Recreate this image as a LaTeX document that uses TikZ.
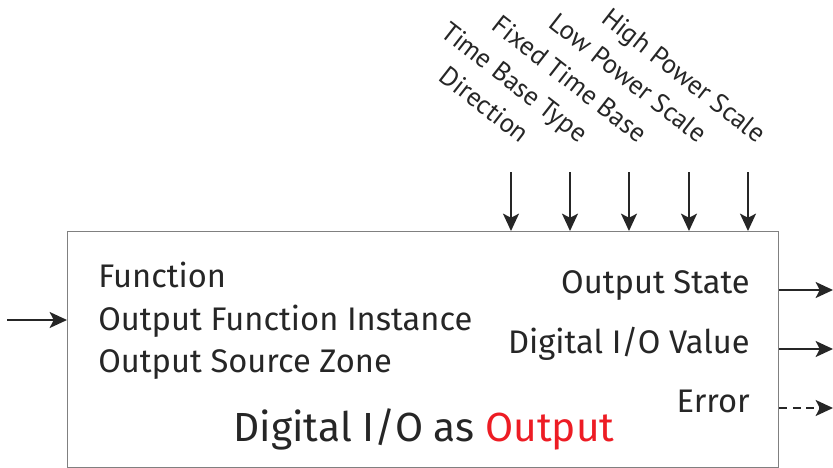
\documentclass[tikz,border=0pt]{standalone}
\usepackage{fontspec}
\setmainfont{Fira Sans}
\newfontfamily\slantfont{PT Sans}
\usetikzlibrary{positioning,arrows.meta}
\definecolor{boxgray}{gray}{0.5}
\definecolor{outred}{RGB}{237,28,36}

\begin{document}
\begin{tikzpicture}[x=0.75pt,y=-0.75pt,
  sig/.style={-{Stealth[length=13pt,width=12pt,inset=3pt]},line width=1.2pt,black!85},
  param/.style={font=\fontsize{24.5}{28}\selectfont,anchor=base west,inner sep=0pt,text=black!85},
  outlab/.style={font=\fontsize{24.5}{28}\selectfont,anchor=base east,inner sep=0pt,text=black!85},
  setting/.style={font=\slantfont\fontsize{20}{24}\selectfont,rotate=-38,anchor=base east,inner sep=0pt,text=black!85}]
\useasboundingbox (0,0) rectangle (833,468);
% the block
\node[draw=boxgray,line width=1.1pt,minimum width=533.25pt,minimum height=177pt,
  inner sep=0pt,anchor=north west] (blk) at (67,231) {};
\node[param] (fn) at (98,287) {Function};
\node[param] (ofi) at (98,330) {Output Function Instance};
\node[param] (osz) at (98,372) {Output Source Zone};
\node[font=\fontsize{30.5}{36}\selectfont,anchor=base,inner sep=0pt,text=black!85] (ttl) at (424,441)
  {Digital I/O as \textcolor{outred}{Output}};
\node[outlab] (ost) at (750,293) {Output State};
\node[outlab] (dv) at (750,353) {Digital I/O Value};
\node[outlab] (err) at (750,412) {Error};
% input
\coordinate (in) at (7,320);
\draw[sig] (in) -- (in -| blk.west);
% settings from above
\foreach \x/\nm/\txt in {511/dir/Direction,570/tbt/Time Base Type,629/ftb/Fixed Time Base,
    689/lps/Low Power Scale,748/hps/High Power Scale}{
  \coordinate (\nm) at (\x,172);
  \draw[sig] (\nm) -- (\nm |- blk.north);
  \node[setting] (\nm-lab) at ([shift={(9,-28)}]\nm) {\txt};
}
% outputs
\coordinate (o1) at (833,290);
\coordinate (o2) at (833,349);
\coordinate (o3) at (833,408);
\draw[sig] (o1 -| blk.east) -- (o1);
\draw[sig] (o2 -| blk.east) -- (o2);
\draw[sig,dash pattern=on 6pt off 4pt] (o3 -| blk.east) -- (o3);
\end{tikzpicture}
\end{document}
